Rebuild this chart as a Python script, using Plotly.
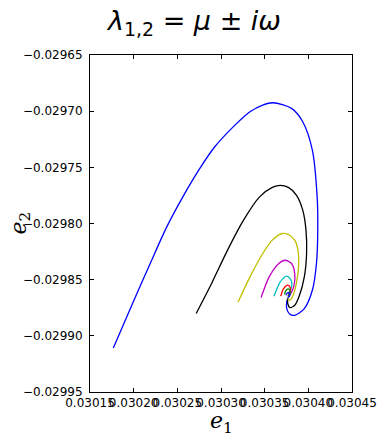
import plotly.graph_objects as go

# Phase-plane trajectories (e1, e2) spiralling into the stable focus
blue_e1 = [0.0301767, 0.0301976, 0.0302196, 0.0302379, 0.0302563, 0.0302745, 0.0302929,
           0.0303148, 0.0303332, 0.0303478, 0.0303596, 0.0303808, 0.0303936, 0.0304046,
           0.0304101, 0.0304108, 0.0304093, 0.0304046, 0.0303954, 0.0303844, 0.0303789,
           0.0303753, 0.0303753, 0.0303769]
blue_e2 = [-0.0299108, -0.0298732, -0.0298344, -0.0298030, -0.0297763, -0.0297525, -0.0297317,
           -0.0297133, -0.0297005, -0.0296946, -0.0296925, -0.0296975, -0.0297094, -0.0297346,
           -0.0297763, -0.0298059, -0.0298356, -0.0298594, -0.0298757, -0.0298817, -0.0298808,
           -0.0298757, -0.0298698, -0.0298656]

black_e1 = [0.0302716, 0.0302892, 0.0303075, 0.0303258, 0.0303442, 0.0303588, 0.0303679,
            0.0303771, 0.0303863, 0.0303936, 0.0303973, 0.0303980, 0.0303954, 0.0303899,
            0.0303844, 0.0303789, 0.0303764, 0.0303764]
black_e2 = [-0.0298801, -0.0298534, -0.0298237, -0.0297970, -0.0297763, -0.0297679, -0.0297661,
            -0.0297679, -0.0297747, -0.0297881, -0.0298059, -0.0298267, -0.0298475, -0.0298638,
            -0.0298728, -0.0298748, -0.0298712, -0.0298668]

yellow_e1 = [0.0303196, 0.0303332, 0.0303478, 0.0303588, 0.0303698, 0.0303771, 0.0303844,
             0.0303881, 0.0303888, 0.0303863, 0.0303826, 0.0303789, 0.0303764]
yellow_e2 = [-0.0298698, -0.0298475, -0.0298267, -0.0298148, -0.0298089, -0.0298098, -0.0298148,
             -0.0298237, -0.0298386, -0.0298534, -0.0298638, -0.0298683, -0.0298668]

magenta_e1 = [0.0303459, 0.0303552, 0.0303662, 0.0303734, 0.0303808, 0.0303844, 0.0303837,
              0.0303800, 0.0303771]
magenta_e2 = [-0.0298659, -0.0298475, -0.0298356, -0.0298327, -0.0298356, -0.0298445, -0.0298549,
              -0.0298623, -0.0298647]

cyan_e1 = [0.0303607, 0.0303679, 0.0303753, 0.0303800, 0.0303808, 0.0303778, 0.0303769]
cyan_e2 = [-0.0298647, -0.0298520, -0.0298469, -0.0298499, -0.0298564, -0.0298623, -0.0298651]

red_e1 = [0.0303684, 0.0303717, 0.0303764, 0.0303793, 0.0303789, 0.0303767]
red_e2 = [-0.0298647, -0.0298579, -0.0298549, -0.0298570, -0.0298618, -0.0298647]

green_e1 = [0.0303727, 0.0303753, 0.0303782, 0.0303793, 0.0303771]
green_e2 = [-0.0298630, -0.0298588, -0.0298585, -0.0298618, -0.0298647]

inner_e1 = [0.0303742, 0.0303771, 0.0303789, 0.0303771]
inner_e2 = [-0.0298638, -0.0298614, -0.0298638, -0.0298659]

x_ticks = [0.03015, 0.03020, 0.03025, 0.03030, 0.03035, 0.03040, 0.03045]
y_ticks = [-0.02965, -0.02970, -0.02975, -0.02980, -0.02985, -0.02990, -0.02995]

series = [
    (blue_e1, blue_e2, "#0000ff"),
    (black_e1, black_e2, "#000000"),
    (yellow_e1, yellow_e2, "#bfbf00"),
    (magenta_e1, magenta_e2, "#bf00bf"),
    (cyan_e1, cyan_e2, "#00bfbf"),
    (red_e1, red_e2, "#ff0000"),
    (green_e1, green_e2, "#008000"),
    (inner_e1, inner_e2, "#0000ff"),
]

fig = go.Figure()
for xs, ys, col in series:
    fig.add_trace(go.Scatter(x=xs, y=ys, mode="lines",
                             line=dict(color=col, width=1.3, shape="spline", smoothing=0.8),
                             showlegend=False, hoverinfo="skip"))

tick_font = dict(family="DejaVu Sans", size=12, color="black")
fig.update_xaxes(range=[0.03015, 0.03045], tickvals=x_ticks,
                 ticktext=[f"{v:.5f}" for v in x_ticks], tickangle=0,
                 ticks="inside", ticklen=4, tickcolor="black", mirror="ticks",
                 showline=True, linecolor="black", linewidth=1, showgrid=False,
                 zeroline=False, tickfont=tick_font)
fig.update_yaxes(range=[-0.02995, -0.02965], tickvals=y_ticks,
                 ticktext=[f"\u2212{abs(v):.5f}" for v in y_ticks],
                 ticks="inside", ticklen=4, tickcolor="black", mirror="ticks",
                 showline=True, linecolor="black", linewidth=1, showgrid=False,
                 zeroline=False, tickfont=tick_font, ticklabelstandoff=4)

fig.update_layout(
    width=389, height=435,
    margin=dict(l=90, r=26, t=55, b=43),
    paper_bgcolor="white", plot_bgcolor="white",
    title=dict(text="<i>λ</i><sub>1,2</sub> = <i>μ</i> ± <i>iω</i>",
               font=dict(family="DejaVu Sans", size=27, color="black"),
               x=0.5, xanchor="center", xref="container", y=1 - 21 / 435, yanchor="middle",
               yref="container"),
    annotations=[
        dict(text="<i>e</i><sub>1</sub>", xref="paper", yref="paper", x=0.5, y=0,
             yshift=-30, xanchor="center", yanchor="middle", showarrow=False,
             font=dict(family="DejaVu Serif", size=22, color="black")),
        dict(text="<i>e</i><sub>2</sub>", xref="paper", yref="paper", x=0, y=0.5,
             xshift=-70, xanchor="center", yanchor="middle", showarrow=False, textangle=-90,
             font=dict(family="DejaVu Serif", size=22, color="black")),
    ],
)

fig.write_html("out.html")
